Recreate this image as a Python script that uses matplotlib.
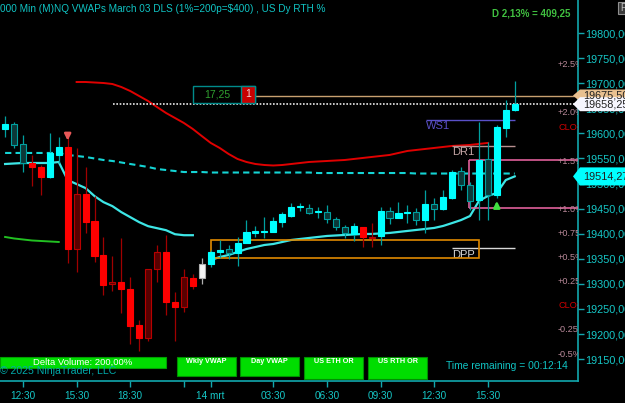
import numpy as np
import matplotlib.pyplot as plt
import matplotlib.transforms as mtransforms
from matplotlib.patches import Rectangle, Polygon
from matplotlib.ticker import FuncFormatter

plt.rcParams['font.family'] = ['Liberation Sans', 'DejaVu Sans']

# ---- 30 min candles (bar index on the x axis) ----
opens = [19608.75, 19618.75, 19579.0, 19541.0, 19533.0, 19513.0, 19557.0, 19573.0, 19369.5, 19479.25,
         19425.25, 19357.5, 19299.75, 19303.75, 19289.75, 19218.0, 19192.0, 19329.5, 19363.5, 19263.75,
         19253.75, 19311.75, 19311.75, 19339.5, 19363.5, 19369.5, 19361.5, 19381.5, 19401.5, 19403.5,
         19403.5, 19423.25, 19435.25, 19453.25, 19451.25, 19443.25, 19443.25, 19429.25, 19413.5, 19399.5,
         19413.5, 19391.5, 19395.5, 19445.25, 19431.25, 19441.25, 19443.25, 19427.25, 19459.25, 19449.25,
         19471.25, 19525.0, 19497.0, 19467.25, 19549.0, 19477.25, 19610.75, 19646.75]
highs = [19634.75, 19622.75, 19596.75, 19557.0, 19537.0, 19600.75, 19592.75, 19592.75, 19571.0, 19533.0,
         19475.25, 19393.5, 19355.5, 19391.5, 19313.75, 19228.0, 19329.5, 19377.5, 19397.5, 19283.75,
         19329.5, 19319.5, 19351.5, 19367.5, 19387.5, 19377.5, 19393.5, 19427.25, 19415.5, 19433.25,
         19433.25, 19443.25, 19461.25, 19461.25, 19459.25, 19453.25, 19457.25, 19433.25, 19417.5, 19421.25,
         19413.5, 19421.25, 19453.25, 19453.25, 19463.25, 19457.25, 19451.25, 19487.0, 19471.25, 19487.0,
         19527.0, 19533.0, 19503.0, 19622.75, 19583.0, 19616.75, 19666.5, 19704.5]
lows = [19592.75, 19571.0, 19523.0, 19495.0, 19477.25, 19511.0, 19541.0, 19341.5, 19323.5, 19401.5,
        19343.5, 19277.75, 19285.75, 19242.0, 19180.0, 19166.0, 19186.0, 19303.75, 19238.0, 19186.0,
        19244.0, 19289.75, 19299.75, 19333.5, 19351.5, 19349.5, 19335.5, 19381.5, 19393.5, 19391.5,
        19403.5, 19413.5, 19433.25, 19445.25, 19439.25, 19431.25, 19421.25, 19407.5, 19391.5, 19385.5,
        19373.5, 19373.5, 19377.5, 19419.25, 19431.25, 19421.25, 19417.5, 19401.5, 19427.25, 19447.25,
        19469.25, 19487.0, 19447.25, 19427.25, 19427.25, 19471.25, 19592.75, 19644.75]
closes = [19618.75, 19577.0, 19541.0, 19533.0, 19513.0, 19561.0, 19573.0, 19369.5, 19479.25, 19423.25,
          19355.5, 19297.75, 19303.75, 19289.75, 19216.0, 19192.0, 19329.5, 19363.5, 19263.75, 19253.75,
          19313.75, 19295.75, 19339.5, 19363.5, 19367.5, 19361.5, 19381.5, 19403.5, 19405.5, 19405.5,
          19425.25, 19439.25, 19453.25, 19455.25, 19441.25, 19445.25, 19429.25, 19413.5, 19401.5, 19415.5,
          19393.5, 19393.5, 19445.25, 19431.25, 19441.25, 19443.25, 19427.25, 19459.25, 19449.25, 19473.25,
          19523.0, 19497.0, 19465.25, 19547.0, 19477.25, 19612.75, 19646.75, 19658.25]
# c = up/pos delta, h = down/pos delta, r = down/neg delta, d = up/neg delta, w = neutral
candle_kind = list("chhrrcc" "rdrrrdrrrddrrdr" "w" "cchcccccccc" "hchhhc" "rd" "chcchchcc" "hhchccc")

tick_bars = [2, 8, 14, 20, 23, 30, 36, 42, 48, 54]
tick_labels = ['12:30', '15:30', '18:30', '', '14 mrt', '03:30', '06:30', '09:30', '12:30', '15:30']

# ---- VWAP lines ----
prev_vwap = [19539, 19540, 19541, 19541, 19541, 19541, 19543, 19507, 19499, 19491, 19475,
             19463, 19455, 19443, 19433, 19423, 19415, 19411, 19407, 19399, 19397, 19397]   # bars 0..21
day_vwap = [19347.5, 19353.5, 19357.5, 19363.5, 19369.5, 19373.5, 19377.5, 19379.5, 19383.5, 19387.5,
            19389.5, 19391.5, 19393.5, 19395.5, 19396.5, 19397.5, 19398.5, 19399.5, 19399.5, 19400.5,
            19401.5, 19403.5, 19405.5, 19407.5, 19409.5, 19411.5, 19415.5, 19421.25, 19427.25, 19435.25,
            19465.25, 19475.25, 19481.25, 19507.0, 19514.27]                                  # bars 23..57
wkly_vwap = [19561] * 7 + [19557, 19555, 19553, 19550, 19547, 19545, 19542, 19539, 19536, 19533,
             19529, 19527, 19525, 19523, 19523] + [19523] + [19522] * 12 + [19521] * 11 + [19520] * 12
red_vwap = [19702.5, 19702.5, 19701.5, 19700.5, 19698.5, 19692.5, 19684.5, 19674.5, 19664.5, 19652.5,
            19640.75, 19630.75, 19620.75, 19608.75, 19594.75, 19581, 19571, 19559, 19549, 19543,
            19539, 19537, 19536, 19537, 19539, 19541, 19543, 19544, 19545, 19546,
            19547, 19549, 19551, 19553, 19555, 19557, 19561, 19565, 19567, 19569,
            19571, 19573, 19575, 19576, 19577, 19579, 19581]                                   # bars 8..54
green_line = [19393.5, 19390.5, 19388.5, 19386.5, 19385.5, 19384.5, 19383.5]                    # bars 0..6

# ---- levels ----
last_price = 19658.25
order_price = 19675.50
ws1, dr1, dpp = 19626.75, 19575.0, 19371.5
or_high, or_low = 19387.5, 19352.0
rth_high, rth_low = 19547.0, 19451.25
vwap_last = 19514.27
pct_labels = ['+2.5%', '+2.0%', 'CLOSE', '+1.5%', '+1.0%', '+0.75%', '+0.5%', '+0.25%', 'CLOSE', '-0.25%', '-0.5%']
pct_prices = [19737, 19641, 19612.75, 19544.5, 19448, 19400, 19352, 19304, 19256, 19208, 19159.5]

W, H = 625, 403
def fx(x): return x / W
def fy(y): return 1 - y / H

fig = plt.figure(figsize=(W / 100, H / 100), dpi=100, facecolor='black')
ax = fig.add_axes([0, fy(381), fx(578), 381 / H])
ax.set_facecolor('black')
ax.set_xlim(-0.57, 64.08)
ax.set_ylim(19106.3, 19866)

axis_col = '#12a8ae'
lab_col = '#16c8c8'

# ---- indicator lines ----
ax.plot(range(0, 22), prev_vwap, color='#3de6e6', lw=1.6, zorder=2)
ax.plot(range(23, 58), day_vwap, color='#3de6e6', lw=1.6, zorder=2)
ax.plot(range(0, 58), wkly_vwap, color='#14d4d4', lw=1.5, ls=(0, (3, 2)), zorder=2)
ax.plot(range(8, 55), red_vwap, color='#e00000', lw=1.4, zorder=2)
ax.plot(range(0, 7), green_line, color='#22c022', lw=1.4, zorder=2)

# ---- horizontal levels / boxes ----
ax.hlines(last_price, 12.07, 64.1, color='#e8e8e8', lw=1.2, ls=(0, (1, 1)), zorder=3)
ax.hlines(order_price, 27.95, 64.1, color='#c8a070', lw=1.0, zorder=3)
ax.hlines(ws1, 47.1, 57.0, color='#5a50c8', lw=1.0, zorder=3)
ax.hlines(dr1, 50.0, 57.0, color='#b89090', lw=1.0, zorder=3)
ax.hlines(dpp, 50.0, 57.0, color='#d8d8d8', lw=1.0, zorder=3)
ax.text(47.1, ws1 - 3, 'WS1', color='#5a50c8', fontsize=8, va='top', ha='left')
ax.text(50.0, dr1 - 3, 'DR1', color='#c8a8a8', fontsize=8, va='top', ha='left')
ax.text(50.0, dpp - 3, 'DPP', color='#d8d8d8', fontsize=8, va='top', ha='left')

ax.add_patch(Rectangle((23.0, or_low), 30.0, or_high - or_low, fill=False,
                       edgecolor='#e08a00', lw=1.2, zorder=3))
ax.hlines([rth_high, rth_low], 51.9, 64.1, color='#e0609a', lw=1.2, zorder=3)
ax.vlines(51.9, rth_low, rth_high, color='#e0609a', lw=1.2, zorder=3)

# ---- candles ----
kind_style = {
    'c': ('#00ffff', '#00ffff', '#00a0a0'),
    'h': ('#0b3838', '#00a0a0', '#00a0a0'),
    'r': ('#ff0000', '#ff0000', '#a00000'),
    'd': ('#580000', '#b80000', '#a00000'),
    'w': ('#f4f4f4', '#b0b0b0', '#b0b0b0'),
}
for i, (o, h, l, c, k) in enumerate(zip(opens, highs, lows, closes, candle_kind)):
    face, edge, wick = kind_style[k]
    ax.vlines(i, l, h, color=wick, lw=0.9, zorder=4)
    ax.add_patch(Rectangle((i - 0.34, min(o, c)), 0.68, max(abs(c - o), 1.2),
                           facecolor=face, edgecolor=edge, lw=0.8, zorder=5))

# signal arrows
ax.annotate('', xy=(7, 19580), xytext=(7, 19603),
            arrowprops=dict(arrowstyle='-|>', color='#e85858', lw=1.8, mutation_scale=9), zorder=6)
ax.annotate('', xy=(55, 19471), xytext=(55, 19446),
            arrowprops=dict(arrowstyle='-|>', color='#40e040', lw=1.8, mutation_scale=9), zorder=6)

# order box on the chart trader line
ax.add_patch(Rectangle((21.0, order_price - 14.3), 6.95, 33.3, facecolor='black',
                       edgecolor='#008b8b', lw=1.0, zorder=6))
ax.add_patch(Rectangle((26.39, order_price - 14.3), 1.56, 33.3, facecolor='#c80000',
                       edgecolor='#008b8b', lw=1.0, zorder=7))
ax.text(23.7, order_price + 2.4, '17,25', color='#30a030', fontsize=7.5, ha='center', va='center', zorder=8)
ax.text(27.17, order_price + 2.4, '1', color='#f0d0d0', fontsize=7.5, ha='center', va='center', zorder=8)

# percent levels, clipped at the price axis
blend = mtransforms.blended_transform_factory(ax.transAxes, ax.transData)
for lab, p in zip(pct_labels, pct_prices):
    col = '#d00000' if lab == 'CLOSE' else '#b88898'
    ax.text(0.9654, p, lab, transform=blend, color=col, fontsize=6.6, va='center', ha='left', clip_on=True)

# ---- axes ----
for s in ['top', 'left']:
    ax.spines[s].set_visible(False)
for s in ['right', 'bottom']:
    ax.spines[s].set_color(axis_col)
    ax.spines[s].set_linewidth(1.2)
ax.yaxis.tick_right()
ax.set_yticks(np.arange(19150, 19801, 50))
ax.yaxis.set_major_formatter(FuncFormatter(lambda v, _: f"{v:.2f}".replace('.', ',')))
ax.tick_params(axis='y', colors=axis_col, labelcolor=lab_col, length=4, width=1, pad=1.5, labelsize=7.8)
ax.set_xticks(tick_bars)
ax.set_xticklabels(tick_labels)
ax.tick_params(axis='x', colors=axis_col, labelcolor=lab_col, length=4, width=1, pad=3.5, labelsize=7.2)

# ---- price tags on the axis ----
tag = mtransforms.blended_transform_factory(fig.transFigure, ax.transData)
for price, half, face, txt in [(order_price, 12, '#e8c090', '19675,50'),
                               (last_price, 14, '#f6f6ff', '19658,25'),
                               (vwap_last, 18, '#00ffff', '19514,27')]:
    pts = [(fx(573), price), (fx(580), price + half), (1.0, price + half),
           (1.0, price - half), (fx(580), price - half)]
    fig.add_artist(Polygon(pts, closed=True, facecolor=face, edgecolor='none', transform=tag, zorder=5))
    fig.text(fx(583), price, txt, transform=tag, color='#202020', fontsize=7.8, va='center', ha='left', zorder=6)

# ---- header / footer ----
fig.text(0, fy(9), '000 Min (M)NQ VWAPs March 03 DLS (1%=200p=$400) , US Dy RTH %',
         color='#10c4c4', fontsize=7.2, va='center', ha='left')
fig.text(fx(492), fy(13), 'D 2,13% = 409,25', color='#40c040', fontsize=7.0,
         fontweight='bold', va='center', ha='left')
fig.add_artist(Rectangle((fx(618), fy(14)), fx(8), 12 / H, facecolor='#3a3a3a',
                         edgecolor='#909090', lw=0.8, transform=fig.transFigure))
fig.text(fx(620), fy(8), 'F', color='#c0c0c0', fontsize=7, va='center', ha='left')

fig.add_artist(Rectangle((fx(0), fy(368)), fx(166), 11 / H, facecolor='#00dd00',
                         edgecolor='#00a000', lw=0.8, transform=fig.transFigure))
fig.text(fx(83), fy(362.5), 'Delta Volume: 200,00%', color='white', fontsize=6.8, ha='center', va='center')
buttons = ['Wkly VWAP', 'Day VWAP', 'US ETH OR', 'US RTH OR']
for (x0, x1, y1), name in zip([(177, 236, 376), (240, 299, 376), (304, 363, 379), (368, 427, 379)], buttons):
    fig.add_artist(Rectangle((fx(x0), fy(y1)), fx(x1 - x0), (y1 - 357) / H, facecolor='#00dd00',
                             edgecolor='#009000', lw=0.8, transform=fig.transFigure))
    fig.text(fx((x0 + x1) / 2), fy(361.5), name, color='white', fontsize=5.2, fontweight='bold',
             ha='center', va='center')
fig.text(0, fy(370.5), '\u00a9 2025 NinjaTrader, LLC', color='#00a8a8', fontsize=7.6, va='center', ha='left')
fig.text(fx(446), fy(366), 'Time remaining = 00:12:14', color='#10c4c4', fontsize=7.4, va='center', ha='left')

fig.savefig('out.png', dpi=100, facecolor='black')
